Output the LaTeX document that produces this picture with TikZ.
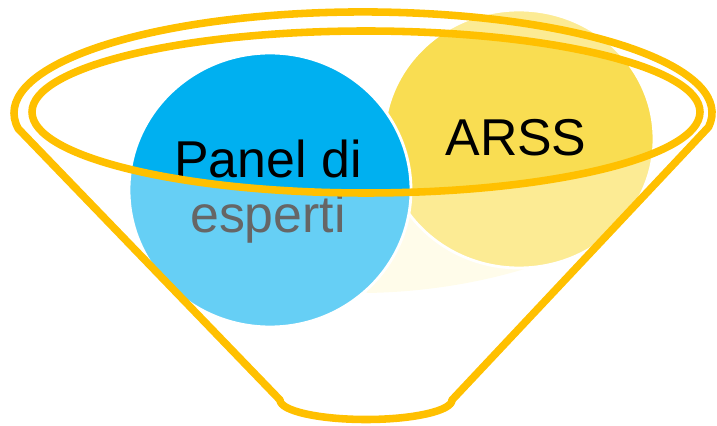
\documentclass[tikz,border=0pt]{standalone}
\usepackage{fontspec}
\setmainfont{Liberation Sans}
\definecolor{funnelgold}{HTML}{FFC000}
\definecolor{panel dark}{HTML}{00B0F0}
\definecolor{panel light}{HTML}{66CFF5}
\definecolor{arss dark}{HTML}{F9DD52}
\definecolor{arss light}{HTML}{FCEB94}
\definecolor{shadow cream}{HTML}{FFFCEA}
\definecolor{esperti gray}{HTML}{666666}

\begin{document}
\begin{tikzpicture}[x=0.02cm,y=0.02cm,
    funnel line/.style={draw=funnelgold,line width=4.3pt,line join=round},
    bubble edge/.style={draw=white,line width=1.6pt},
    label text/.style={font=\fontsize{29.5}{31}\selectfont,inner sep=0pt,anchor=base}]

    \useasboundingbox (0,0) rectangle (717,426);

    % faint shadow under the bubbles
    \fill[shadow cream] (330,200) -- (367,133) .. controls (430,134) and (490,145) .. (540,162) -- (540,230) -- cycle;

    % ARSS bubble
    \fill[arss light] (519,287) ellipse [x radius=135,y radius=129];
    \begin{scope}
        \clip (366,314) ellipse [x radius=334,y radius=80];
        \fill[arss dark] (519,287) ellipse [x radius=135,y radius=129];
    \end{scope}
    \draw[bubble edge] (519,287) ellipse [x radius=135,y radius=129];

    % panel bubble
    \fill[panel light] (270,236) ellipse [x radius=141,y radius=137];
    \begin{scope}
        \clip (366,314) ellipse [x radius=334,y radius=80];
        \fill[panel dark] (270,236) ellipse [x radius=141,y radius=137];
    \end{scope}
    \draw[bubble edge] (270,236) ellipse [x radius=141,y radius=137];

    \node[label text] (panel) at (268,248) {Panel di};
    \node[label text,text=esperti gray] (esperti) at (268,193) {esperti};
    \node[label text] (arss) at (516,270) {ARSS};

    % funnel
    \draw[funnel line] (366,314) ellipse [x radius=334,y radius=81];
    \draw[funnel line] (708.6,299) arc [start angle=-8,end angle=189,x radius=349,y radius=101]
        -- (280,26) arc [start angle=180,end angle=360,x radius=86,y radius=19.5] -- cycle;

\end{tikzpicture}
\end{document}
